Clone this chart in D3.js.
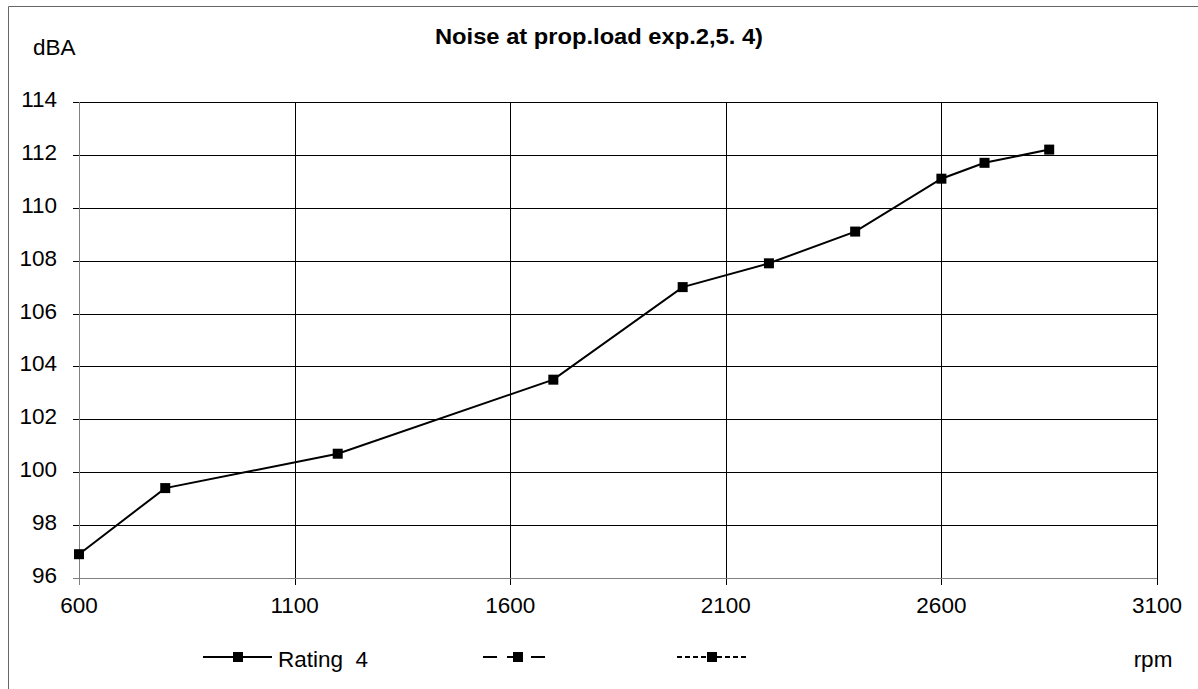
<!DOCTYPE html>
<html><head><meta charset="utf-8">
<script src="https://cdn.jsdelivr.net/npm/d3@7"></script>
<style>
html,body{margin:0;padding:0;background:#fff;}
svg{display:block;font-family:"Liberation Sans",Arial,sans-serif;}
</style></head>
<body>
<svg id="c" width="1198" height="689"></svg>
<script>
const rpm = [600, 800, 1200, 1700, 2000, 2200, 2400, 2600, 2700, 2850];
const dba = [96.9, 99.4, 100.7, 103.5, 107.0, 107.9, 109.1, 111.1, 111.7, 112.2];
const xTicks = [600, 1100, 1600, 2100, 2600, 3100];
const yTicks = [96, 98, 100, 102, 104, 106, 108, 110, 112, 114];
const legendLabels = ["Rating  4", "", ""];
const legendDash = [null, "14,10", "5,3"];
const title = "Noise at prop.load exp.2,5. 4)";

const svg = d3.select("#c");
const L = 79, R = 1157, T = 102, B = 578;
const x = d3.scaleLinear().domain([600, 3100]).range([L, R]);
const y = d3.scaleLinear().domain([96, 114]).range([B, T]);
const FS = 22.5;

// outer frame
svg.append("path").attr("d", "M8.5,700 V6.5 H1210").attr("fill","none").attr("stroke","#666").attr("stroke-width",1);

// grid
const g = svg.append("g").attr("shape-rendering","crispEdges");
g.selectAll(".hg").data(yTicks).join("line")
  .attr("x1", L-6).attr("x2", R).attr("y1", d=>Math.round(y(d))+0.5).attr("y2", d=>Math.round(y(d))+0.5)
  .attr("stroke","#000").attr("stroke-width",1);
g.selectAll(".vg").data(xTicks).join("line")
  .attr("y1", T).attr("y2", B+7).attr("x1", d=>Math.round(x(d))+0.5).attr("x2", d=>Math.round(x(d))+0.5)
  .attr("stroke","#000").attr("stroke-width",1);
// axes (gray)
g.append("line").attr("x1",L-6).attr("x2",R).attr("y1",B+0.5).attr("y2",B+0.5).attr("stroke","#808080").attr("stroke-width",1);
g.append("line").attr("x1",L+0.5).attr("x2",L+0.5).attr("y1",T).attr("y2",B+7).attr("stroke","#808080").attr("stroke-width",1);

// tick labels
svg.selectAll(".yl").data(yTicks).join("text")
  .attr("x", L-22).attr("y", d=>y(d)+5).attr("text-anchor","end")
  .attr("font-size",FS).text(d=>d);
svg.selectAll(".xl").data(xTicks).join("text")
  .attr("x", d=>x(d)).attr("y", 613).attr("text-anchor","middle")
  .attr("font-size",FS).text(d=>d);

svg.append("text").attr("x",33).attr("y",55).attr("font-size",FS).text("dBA");
svg.append("text").attr("x",1153).attr("y",667).attr("text-anchor","middle").attr("font-size",FS).text("rpm");
svg.append("text").attr("x",599).attr("y",44).attr("text-anchor","middle").attr("font-size",22)
  .attr("font-weight","bold").attr("textLength",328).attr("lengthAdjust","spacingAndGlyphs").text(title);

// series
const pts = rpm.map((r,i)=>[r,dba[i]]);
svg.append("path").datum(pts)
  .attr("d", d3.line().x(d=>x(d[0])).y(d=>y(d[1])))
  .attr("fill","none").attr("stroke","#000").attr("stroke-width",2);
svg.selectAll(".mk").data(pts).join("rect")
  .attr("x", d=>x(d[0])-5).attr("y", d=>y(d[1])-5).attr("width",10).attr("height",10).attr("fill","#000");

// legend
const lx = [203, 483, 677];
const lg = svg.selectAll(".lg").data(legendLabels).join("g")
  .attr("transform",(d,i)=>`translate(${lx[i]},657)`);
lg.append("line").attr("x1",0).attr("x2",69).attr("y1",0).attr("y2",0)
  .attr("stroke","#000").attr("stroke-width",2)
  .attr("stroke-dasharray",(d,i)=>legendDash[i]);
lg.append("rect").attr("x",30).attr("y",-5).attr("width",10).attr("height",10).attr("fill","#000");
lg.append("text").attr("x",75).attr("y",10).attr("font-size",FS).attr("xml:space","preserve").style("white-space","pre").text(d=>d);
</script>
</body></html>
